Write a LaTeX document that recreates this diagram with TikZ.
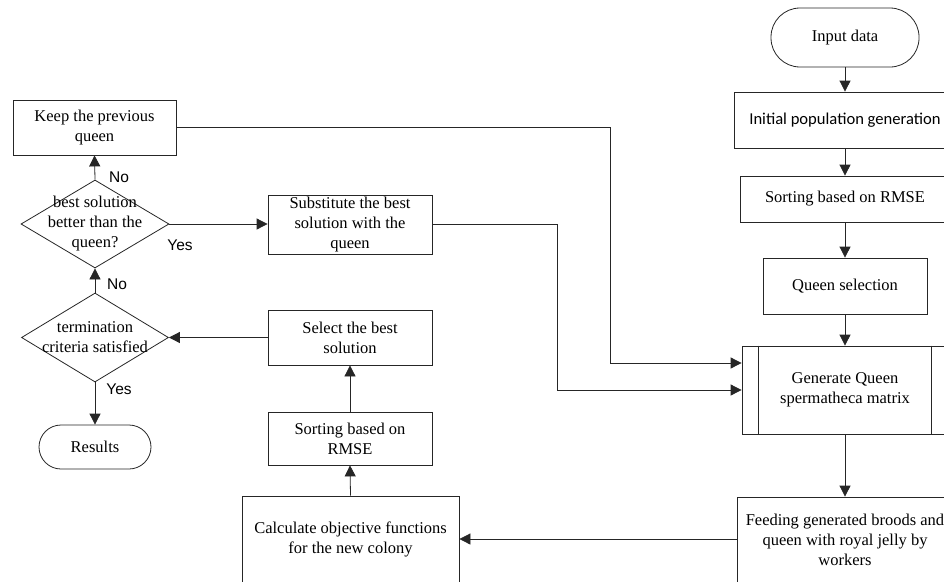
\documentclass[tikz,border=0pt]{standalone}
\usepackage{fontspec}
\setmainfont{Liberation Serif}
\newfontfamily\labfont{Liberation Sans}
\newfontfamily\calfont{Carlito}
\usetikzlibrary{arrows.meta,shapes.geometric,calc}
\tikzset{
  box/.style={draw=black!85,line width=0.8pt,rectangle,inner sep=2pt,align=center,font=\fontsize{16.5}{20}\selectfont},
  dia/.style={draw=black!85,line width=0.8pt,diamond,inner sep=0pt},
  dtext/.style={align=center,font=\fontsize{16.5}{20}\selectfont,inner sep=0pt},
  arr/.style={draw=black!85,line width=0.8pt,-{Triangle[length=11pt,width=11pt]}},
  lab/.style={font=\labfont\fontsize{15.5}{18}\selectfont,inner sep=0pt}
}
\begin{document}
\begin{tikzpicture}[x=1pt,y=-1pt]
\clip (0,0) rectangle (944,581);
\fill[white] (0,0) rectangle (944,581);
% right column
\node[box,rounded corners=29pt,minimum width=148pt,minimum height=59pt] (in) at (845,37.5) {Input data};
\node[box,minimum width=222pt,minimum height=56pt,font=\calfont\fontsize{16.6}{20}\selectfont] (init) at (845,120) {Initial population generation};
\node[box,minimum width=210pt,minimum height=46pt] (sort1) at (845,199) {Sorting based on RMSE};
\node[box,minimum width=164pt,minimum height=56pt] (queen) at (845,286) {Queen selection};
\node[box,minimum width=206pt,minimum height=88pt] (gen) at (845,390) {Generate Queen\\spermatheca matrix};
\draw[draw=black!85,line width=0.8pt] ($(gen.north west)+(17,0)$) -- ($(gen.south west)+(17,0)$);
\draw[draw=black!85,line width=0.8pt] ($(gen.north east)+(-17,0)$) -- ($(gen.south east)+(-17,0)$);
\node[box,minimum width=216pt,minimum height=86pt] (feed) at (845,540) {Feeding generated broods and\\queen with royal jelly by\\workers};
% middle column
\node[box,minimum width=217pt,minimum height=86pt] (calc) at (350.5,539) {Calculate objective functions\\for the new colony};
\node[box,minimum width=164pt,minimum height=53pt] (sortL) at (350,438.5) {Sorting based on\\RMSE};
\node[box,minimum width=164pt,minimum height=55pt] (sel) at (350,337.5) {Select the best\\solution};
\node[box,minimum width=164pt,minimum height=55pt] (sub) at (350,224.5) {Substitute the best\\solution with the\\queen};
% left column
\node[box,minimum width=163pt,minimum height=55pt] (keep) at (94.5,127.5) {Keep the previous\\queen};
\node[dia,minimum width=148pt,minimum height=88pt] (d1) at (95,224) {};
\node[dtext] (d1t) at (95,224) {best solution\\better than the\\queen?};
\node[dia,minimum width=147pt,minimum height=89pt] (d2) at (95,337.5) {};
\node[dtext] (d2t) at (95,337.5) {termination\\criteria satisfied};
\node[box,rounded corners=22pt,minimum width=112pt,minimum height=44pt] (res) at (95,447) {Results};
% connectors right column
\draw[arr] (in.south) -- (init.north);
\draw[arr] (init.south) -- (sort1.north);
\draw[arr] (sort1.south) -- (queen.north);
\draw[arr] (queen.south) -- (gen.north);
\draw[arr] (gen.south) -- (feed.north);
\draw[arr] (feed.west |- calc.east) -- (calc.east);
% middle column
\draw[arr] (calc.north) -- (sortL.south);
\draw[arr] (sortL.north) -- (sel.south);
\draw[arr] (sel.west) -- (d2.east);
% left column
\draw[arr] (d2.south) -- (res.north);
\draw[arr] (d2.north) -- (d1.south);
\draw[arr] (d1.north) -- (keep.south);
\draw[arr] (d1.east) -- (sub.west |- d1.east);
% feedback lines
\draw[arr] (keep.east) -- ++(434,0) |- ([yshift=27pt]gen.west);
\draw[arr] (sub.east) -- ++(125,0) |- (gen.west);
% labels
\node[lab] (l1) at (119,177) {No};
\node[lab] (l2) at (180,245) {Yes};
\node[lab] (l3) at (117,284) {No};
\node[lab] (l4) at (119,389) {Yes};
\end{tikzpicture}
\end{document}
